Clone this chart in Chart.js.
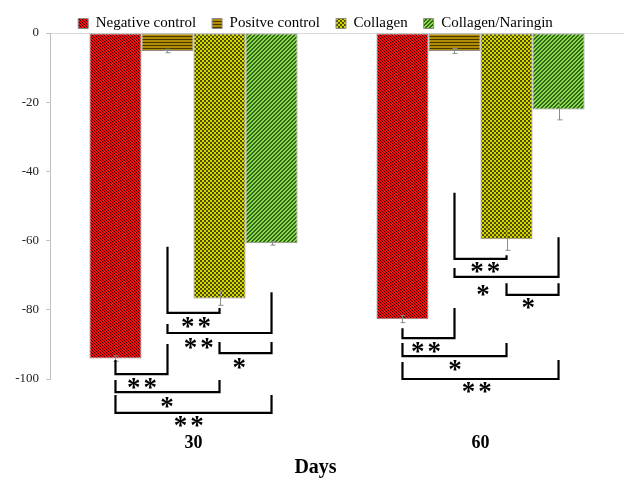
<!DOCTYPE html>
<html>
<head>
<meta charset="utf-8">
<script src="https://cdn.jsdelivr.net/npm/chart.js@4/dist/chart.umd.min.js"></script>
<style>
  html, body { margin: 0; padding: 0; background: #fff; }
  #wrap { width: 625px; height: 478px; }
</style>
</head>
<body>
<div id="wrap"><canvas id="chart"></canvas></div>
<script>
// data
var days = ['30', '60'];
var seriesNames = ['Negative control', 'Positve control', 'Collagen', 'Collagen/Naringin'];
var negativeControl = [-94.1, -82.7];
var positiveControl = [-5.2, -5.2];
var collagen = [-76.7, -59.6];
var collagenNaringin = [-60.8, -22.1];
var negativeErr = [0.8, 1.0];
var positiveErr = [0.5, 0.7];
var collagenErr = [2.0, 3.2];
var collagenNaringinErr = [0.5, 3.0];
var yTicks = [0, -20, -40, -60, -80, -100];

// significance brackets: day index, bar a, bar b, leg top a, leg top b, level, mark, mark position (bar units), mark level
var brackets = [
  [0, 1, 2, -61.8, -79.5, -80.9, '**', 1.55, -83.8],
  [0, 1, 3, -84.1, -74.9, -86.7, '**', 1.6, -89.6],
  [0, 2, 3, -89.3, -89.3, -92.5, '*', 2.38, -95.4],
  [0, 0, 1, -94.5, -89.9, -98.6, '**', 0.51, -101.2],
  [0, 0, 2, -100.3, -100.3, -103.8, '*', 0.99, -106.9],
  [0, 0, 3, -104.6, -104.6, -109.8, '**', 1.41, -112.4],
  [1, 1, 2, -46.2, -64.2, -65.3, '**', 1.59, -67.9],
  [1, 1, 3, -67.9, -59.0, -70.5, '*', 1.55, -74.3],
  [1, 2, 3, -72.3, -72.3, -75.7, '*', 2.42, -78.3],
  [1, 0, 1, -85.3, -79.5, -88.2, '**', 0.45, -91.0],
  [1, 0, 2, -89.6, -89.6, -93.4, '*', 1.01, -96.2],
  [1, 0, 3, -95.1, -94.5, -100.0, '**', 1.43, -102.6]
];

var FONT = "'Liberation Serif', 'Times New Roman', serif";

// small tiled fills like the Excel pattern fills
function makePattern(size, bg, fg, isDark) {
  var c = document.createElement('canvas');
  c.width = size; c.height = size;
  var g = c.getContext('2d');
  g.fillStyle = bg;
  g.fillRect(0, 0, size, size);
  g.fillStyle = fg;
  for (var y = 0; y < size; y++) {
    for (var x = 0; x < size; x++) {
      if (isDark(x, y)) g.fillRect(x, y, 1, 1);
    }
  }
  return document.getElementById('chart').getContext('2d').createPattern(c, 'repeat');
}

var redFill = makePattern(3, '#ff0a0a', '#380000', function (x, y) { return ((x - y + 6) % 3) === 0; });
var brownFill = makePattern(3, '#b08c06', '#4a3800', function (x, y) { return y === 0; });
var yellowFill = makePattern(4, '#d6d600', '#4e4e00', function (x, y) { return (x < 2) === (y < 2); });
var greenFill = makePattern(4, '#8ed650', '#2e6a12', function (x, y) { return ((x + y) % 4) < 2; });

var values = [negativeControl, positiveControl, collagen, collagenNaringin];
var errors = [negativeErr, positiveErr, collagenErr, collagenNaringinErr];
var fills = [redFill, brownFill, yellowFill, greenFill];

var datasets = [];
for (var i = 0; i < seriesNames.length; i++) {
  datasets.push({
    label: seriesNames[i],
    data: values[i],
    backgroundColor: fills[i],
    borderColor: '#8c8c8c',
    borderWidth: 1,
    borderSkipped: false,
    barPercentage: 1,
    categoryPercentage: 0.725
  });
}

// error bars from the err arrays
var errorBars = {
  id: 'errorBars',
  afterDatasetsDraw: function (chart) {
    var ctx = chart.ctx;
    var y = chart.scales.y;
    ctx.save();
    ctx.strokeStyle = '#8c8c8c';
    ctx.lineWidth = 1;
    for (var s = 0; s < errors.length; s++) {
      var meta = chart.getDatasetMeta(s);
      for (var d = 0; d < meta.data.length; d++) {
        var x = Math.round(meta.data[d].x) + 0.5;
        var top = y.getPixelForValue(values[s][d] + errors[s][d]);
        var bot = y.getPixelForValue(values[s][d] - errors[s][d]);
        ctx.beginPath();
        ctx.moveTo(x, top); ctx.lineTo(x, bot);
        ctx.moveTo(x - 2, top); ctx.lineTo(x + 3, top);
        ctx.moveTo(x - 2, bot); ctx.lineTo(x + 3, bot);
        ctx.stroke();
      }
    }
    ctx.restore();
  }
};

// brackets with stars, placed from bar centres and the y scale
var sigBrackets = {
  id: 'sigBrackets',
  afterDraw: function (chart) {
    var ctx = chart.ctx;
    var y = chart.scales.y;
    function barX(cat, pos) {
      var lo = Math.floor(pos), hi = Math.ceil(pos);
      var xl = chart.getDatasetMeta(lo).data[cat].x;
      var xh = chart.getDatasetMeta(hi).data[cat].x;
      return xl + (xh - xl) * (pos - lo);
    }
    ctx.save();
    ctx.strokeStyle = '#000';
    ctx.fillStyle = '#000';
    ctx.lineWidth = 2.2;
    ctx.lineJoin = 'miter';
    ctx.lineCap = 'butt';
    ctx.font = 'bold 27px ' + FONT;
    ctx.letterSpacing = '3px';
    ctx.textAlign = 'center';
    ctx.textBaseline = 'alphabetic';
    brackets.forEach(function (b) {
      var xa = barX(b[0], b[1]);
      var xb = barX(b[0], b[2]);
      var lvl = y.getPixelForValue(b[5]);
      ctx.beginPath();
      ctx.moveTo(xa, y.getPixelForValue(b[3]));
      ctx.lineTo(xa, lvl);
      ctx.lineTo(xb, lvl);
      ctx.lineTo(xb, y.getPixelForValue(b[4]));
      ctx.stroke();
      var m = ctx.measureText(b[6]);
      var cy = y.getPixelForValue(b[8]);
      var base = cy + (m.actualBoundingBoxAscent - m.actualBoundingBoxDescent) / 2;
      ctx.fillText(b[6], barX(b[0], b[7]) + 1.5, base);
    });
    ctx.restore();
  }
};

new Chart(document.getElementById('chart'), {
  type: 'bar',
  data: { labels: days, datasets: datasets },
  options: {
    responsive: true,
    maintainAspectRatio: false,
    animation: false,
    layout: { padding: { left: 7, right: 1, top: 0, bottom: 0 } },
    plugins: {
      tooltip: { enabled: false },
      legend: {
        position: 'top',
        maxHeight: 33,
        labels: {
          boxWidth: 10,
          boxHeight: 10,
          padding: 16,
          color: '#000',
          font: { family: FONT, size: 15 }
        }
      },
      title: {
        display: true,
        position: 'bottom',
        text: 'Days',
        color: '#000',
        font: { family: FONT, size: 20, weight: 'bold', lineHeight: 1 },
        padding: 0
      }
    },
    scales: {
      x: {
        grid: { display: false, drawTicks: false },
        border: { display: false },
        ticks: {
          padding: 54,
          color: '#000',
          font: { family: FONT, size: 18, weight: 'bold' }
        },
        afterFit: function (scale) { scale.height = 79; }
      },
      y: {
        min: -100,
        max: 0,
        afterBuildTicks: function (scale) {
          scale.ticks = yTicks.map(function (v) { return { value: v }; });
        },
        grid: {
          color: function (c) { return c.tick && c.tick.value === 0 ? '#d9d9d9' : 'rgba(0,0,0,0)'; },
          tickColor: '#bfbfbf',
          tickLength: 4
        },
        border: { display: true, color: '#bfbfbf', width: 1 },
        ticks: {
          padding: 7,
          color: '#222',
          font: { family: FONT, size: 13 }
        },
        afterFit: function (scale) { scale.width = 43; }
      }
    }
  },
  plugins: [errorBars, sigBrackets]
});
</script>
</body>
</html>
